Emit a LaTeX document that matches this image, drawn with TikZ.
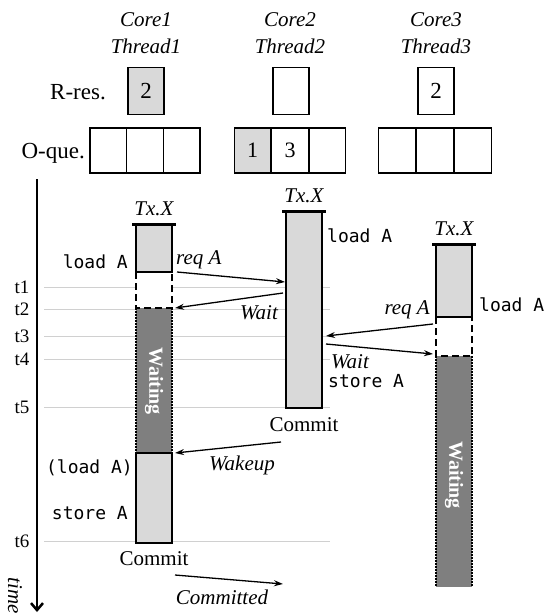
\documentclass[tikz,border=0pt]{standalone}
\usepackage{fontspec}
\setmainfont{Liberation Serif}
\setmonofont{DejaVu Sans Mono}
\usetikzlibrary{arrows.meta,calc}
\definecolor{lgray}{HTML}{D9D9D9}
\definecolor{dgray}{HTML}{7F7F7F}
\definecolor{gridgray}{HTML}{D0D0D0}
\begin{document}
\begin{tikzpicture}[x=1pt,y=-1pt,
  lbl/.style={font=\fontsize{21}{23}\selectfont, inner sep=0pt},
  biglbl/.style={font=\fontsize{23}{25}\selectfont, inner sep=0pt},
  ilbl/.style={font=\fontsize{21}{23}\selectfont\itshape, inner sep=0pt},
  tlbl/.style={font=\fontsize{19}{21}\selectfont, inner sep=0pt},
  codetxt/.style={font=\fontsize{18}{20}\selectfont\ttfamily, inner sep=0pt},
  cellbox/.style={draw, line width=1.5pt, minimum width=36.7pt, minimum height=45pt, inner sep=0pt, font=\fontsize{22}{24}\selectfont},
  rbox/.style={draw, line width=1.5pt, minimum width=36pt, minimum height=47pt, inner sep=0pt, font=\fontsize{23}{25}\selectfont},
  segbox/.style={minimum width=36pt, inner sep=0pt, outer sep=0pt, draw=none},
  barline/.style={line width=2.5pt},
  dshline/.style={line width=2.5pt, dash pattern=on 7pt off 4pt},
  dotline/.style={line width=2.5pt, dash pattern=on 1.5pt off 1.5pt},
  topcap/.style={line width=3pt},
  conn/.style={line width=1.3pt, -{Stealth[length=9pt,width=6pt]}},
  gridln/.style={gridgray, line width=0.6pt},
  waittxt/.style={rotate=-90, text=white, font=\fontsize{20}{22}\selectfont\bfseries, inner sep=0pt}
]
\useasboundingbox (0,0) rectangle (544,616);

% time grid lines
\foreach \n/\y in {1/287,2/309,3/336,4/359,5/407,6/541}{
  \node[tlbl] (t\n) at (22,\y) {t\n};
  \coordinate (gs\n) at (44,\y);
  \coordinate (ge\n) at (330,\y);
  \draw[gridln] (gs\n) -- (ge\n);
}

% headers
\node[ilbl] (h1a) at (146,20) {Core1};
\node[ilbl] (h1b) at (146,46) {Thread1};
\node[ilbl] (h2a) at (290,20) {Core2};
\node[ilbl] (h2b) at (290,46) {Thread2};
\node[ilbl] (h3a) at (436,20) {Core3};
\node[ilbl] (h3b) at (436,46) {Thread3};

% R-res
\node[biglbl, anchor=east] (rres) at (106,92) {R-res.};
\node[rbox, fill=lgray] (r1) at (146,91) {2};
\node[rbox] (r2) at (291,91) {};
\node[rbox] (r3) at (436,91) {2};

% O-que
\node[biglbl, anchor=east] (oque) at (85,153) {O-que.};
\node[cellbox] (q11) at (108.3,150.5) {};
\node[cellbox] (q12) at (145,150.5) {};
\node[cellbox] (q13) at (181.7,150.5) {};
\node[cellbox, fill=lgray] (q21) at (252.7,150.5) {1};
\node[cellbox] (q22) at (290,150.5) {3};
\node[cellbox] (q23) at (327.3,150.5) {};
\node[cellbox] (q31) at (397,150.5) {};
\node[cellbox] (q32) at (435,150.5) {};
\node[cellbox] (q33) at (473,150.5) {};

% time axis
\coordinate (ta) at (37,179);
\coordinate (tb) at (37,612);
\draw[line width=2.5pt, -{Straight Barb[length=7pt,width=12pt,line width=2.5pt]}] (ta) -- (tb);
\node[ilbl, rotate=-90] (time) at (15,596) {time};

% ---------- Thread 1 ----------
\node[segbox, fill=lgray, minimum height=48pt] (b1a) at (154,248) {};
\node[segbox, fill=white, minimum height=36pt] (b1b) at (154,290) {};
\node[segbox, fill=dgray, minimum height=145pt] (b1c) at (154,380.5) {};
\node[segbox, fill=lgray, minimum height=90pt] (b1d) at (154,498) {};
\draw[dshline] (b1b.north west) -- (b1b.south west) -- (b1b.south east) -- (b1b.north east);
\draw[dotline] (b1c.north west) -- (b1c.south west);
\draw[dotline] (b1c.north east) -- (b1c.south east);
\draw[barline] (b1a.north west) rectangle (b1a.south east);
\draw[barline] (b1d.north west) rectangle (b1d.south east);
\draw[topcap] ($(b1a.north west)+(-4,0)$) -- ($(b1a.north east)+(4,0)$);
\node[ilbl] (tx1) at (154,209) {Tx.X};
\node[waittxt] (w1) at (154,381) {Waiting};
\node[codetxt, anchor=east] (l1) at (128,262) {load A};
\node[codetxt, anchor=east] (l1b) at (133,468) {(load A)};
\node[codetxt, anchor=east] (s1) at (128,513) {store A};
\node[lbl] (c1) at (154,559) {Commit};

% ---------- Thread 2 ----------
\node[segbox, fill=lgray, minimum height=197pt] (b2) at (304,309.5) {};
\draw[barline] (b2.north west) rectangle (b2.south east);
\draw[topcap] ($(b2.north west)+(-4,0)$) -- ($(b2.north east)+(4,0)$);
\node[ilbl] (tx2) at (304,196) {Tx.X};
\node[codetxt, anchor=west] (l2) at (327,236) {load A};
\node[codetxt, anchor=west] (s2) at (328,381) {store A};
\node[lbl] (c2) at (304,425) {Commit};

% ---------- Thread 3 ----------
\node[segbox, fill=lgray, minimum height=73pt] (b3a) at (454,280.5) {};
\node[segbox, fill=white, minimum height=39pt] (b3b) at (454,336.5) {};
\node[segbox, fill=dgray, minimum height=231pt] (b3c) at (454,471.5) {};
\draw[dshline] (b3b.north west) -- (b3b.south west) -- (b3b.south east) -- (b3b.north east);
\draw[dotline] (b3c.north west) -- (b3c.south west);
\draw[dotline] (b3c.north east) -- (b3c.south east);
\draw[barline] (b3a.north west) rectangle (b3a.south east);
\draw[topcap] ($(b3a.north west)+(-4,0)$) -- ($(b3a.north east)+(4,0)$);
\node[ilbl] (tx3) at (454,229) {Tx.X};
\node[waittxt] (w3) at (454,475) {Waiting};
\node[codetxt, anchor=west] (l3) at (479,305) {load A};

% ---------- connectors ----------
\coordinate (a1s) at (177,272);
\coordinate (a1e) at (285,282);
\coordinate (a2s) at (283,293);
\coordinate (a2e) at (175,308);
\coordinate (a3s) at (433,324);
\coordinate (a3e) at (326,336);
\coordinate (a4s) at (326,344);
\coordinate (a4e) at (433,354);
\coordinate (a5s) at (281,442);
\coordinate (a5e) at (175,453);
\coordinate (a6s) at (175,575);
\coordinate (a6e) at (283,584);
\draw[conn] (a1s) -- (a1e);
\draw[conn] (a2s) -- (a2e);
\draw[conn] (a3s) -- (a3e);
\draw[conn] (a4s) -- (a4e);
\draw[conn] (a5s) -- (a5e);
\draw[conn] (a6s) -- (a6e);
\node[ilbl, anchor=west] (rq1) at (176,260) {req A};
\node[ilbl] (wt1) at (259,313) {Wait};
\node[ilbl, anchor=east] (rq3) at (430,310) {req A};
\node[ilbl] (wt3) at (350,362) {Wait};
\node[ilbl] (wk) at (242,465) {Wakeup};
\node[ilbl] (cm) at (222,597) {Committed};
\end{tikzpicture}
\end{document}
